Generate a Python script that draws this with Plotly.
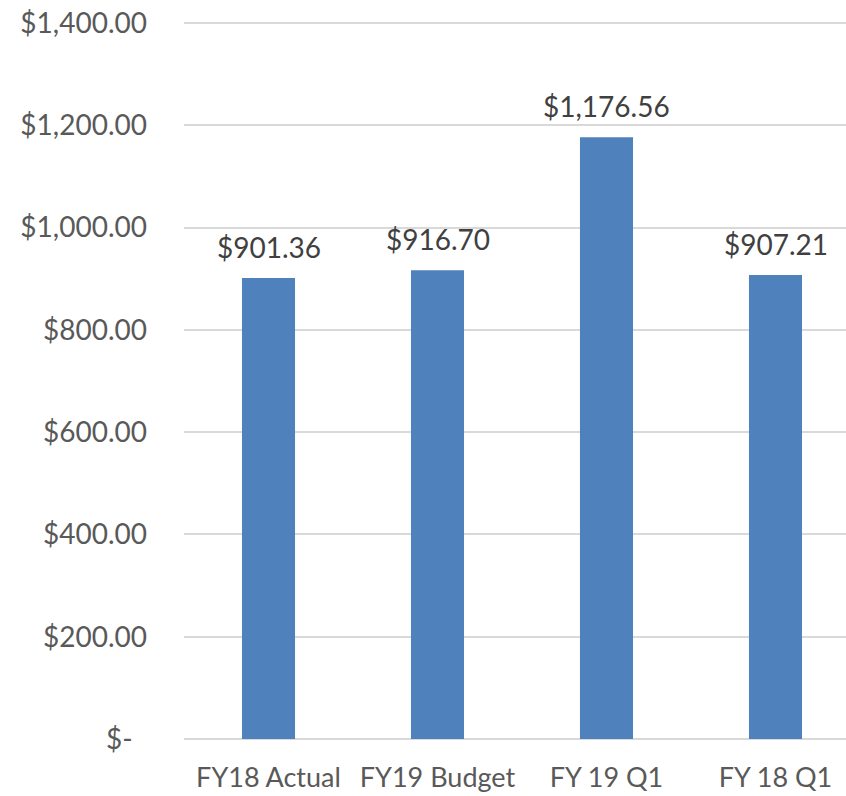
import plotly.graph_objects as go

categories = ["FY18 Actual", "FY19 Budget", "FY 19 Q1", "FY 18 Q1"]
values = [901.36, 916.70, 1176.56, 907.21]
y_ticks = [0, 200, 400, 600, 800, 1000, 1200, 1400]
y_tick_labels = ["$-\u00a0\u00a0", "$200.00", "$400.00", "$600.00", "$800.00",
                 "$1,000.00", "$1,200.00", "$1,400.00"]
bar_labels = ["${:,.2f}".format(v) for v in values]

FONT = "Lato"
x_pos = list(range(len(categories)))

fig = go.Figure(go.Bar(
    x=x_pos,
    y=values,
    marker=dict(color="#4F81BD", line=dict(width=0)),
    width=0.314,
    hoverinfo="skip",
))

for xi, v, lab in zip(x_pos, values, bar_labels):
    fig.add_annotation(
        x=xi, y=v, text=lab, showarrow=False,
        xanchor="center", yanchor="bottom", yshift=12,
        font=dict(family=FONT, size=28, color="#404040"),
    )

fig.update_layout(
    width=846, height=796,
    margin=dict(l=184, r=0, t=21, b=57, pad=0, autoexpand=False),
    paper_bgcolor="white", plot_bgcolor="white",
    showlegend=False,
    font=dict(family=FONT, color="#595959"),
)
fig.update_xaxes(
    range=[-0.5, -0.5 + 662 / 169],
    tickmode="array",
    tickvals=x_pos,
    ticktext=categories,
    tickfont=dict(family=FONT, size=27, color="#595959"),
    showgrid=False, zeroline=False, automargin=False,
    showline=False, ticks="", ticklabelstandoff=20,
    ticklabeloverflow="allow",
)
fig.update_yaxes(
    range=[0, 1400 * 718 / 716],
    tickmode="array",
    tickvals=y_ticks,
    ticktext=y_tick_labels,
    tickfont=dict(family=FONT, size=28, color="#595959"),
    showgrid=True, gridcolor="#D9D9D9", gridwidth=1.5,
    zeroline=True, zerolinecolor="#D9D9D9", zerolinewidth=1.5,
    showline=False, ticks="", ticklabelstandoff=36, automargin=False,
    ticklabeloverflow="allow",
)

fig.write_html(
    "out.html",
    config={"displayModeBar": False},
    post_script="document.body.style.margin='0';document.body.style.overflow='hidden';",
)
